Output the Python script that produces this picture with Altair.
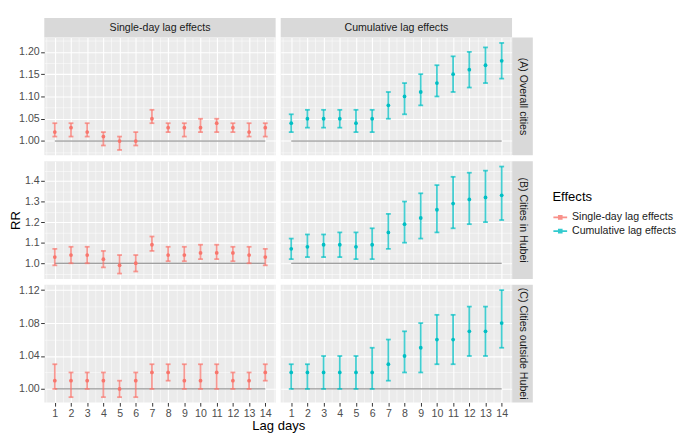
import altair as alt
import pandas as pd

lags = list(range(1, 15))
effects = ["Single-day lag effects", "Cumulative lag effects"]
regions = ["(A) Overall cities", "(B) Cities in Hubei", "(C) Cities outside Hubei"]

# (A) Overall cities
a_s_rr = [1.02, 1.03, 1.02, 1.01, 1.00, 1.00, 1.05, 1.03, 1.03, 1.03, 1.04, 1.03, 1.02, 1.03]
a_s_lo = [1.01, 1.01, 1.01, 0.99, 0.98, 0.99, 1.04, 1.02, 1.01, 1.02, 1.02, 1.02, 1.01, 1.01]
a_s_hi = [1.04, 1.04, 1.04, 1.02, 1.01, 1.02, 1.07, 1.04, 1.04, 1.05, 1.05, 1.04, 1.04, 1.04]
a_c_rr = [1.04, 1.05, 1.05, 1.05, 1.04, 1.05, 1.08, 1.10, 1.11, 1.13, 1.15, 1.16, 1.17, 1.18]
a_c_lo = [1.02, 1.03, 1.03, 1.03, 1.02, 1.02, 1.05, 1.06, 1.08, 1.10, 1.11, 1.12, 1.13, 1.14]
a_c_hi = [1.06, 1.07, 1.07, 1.07, 1.07, 1.07, 1.11, 1.13, 1.15, 1.17, 1.19, 1.20, 1.21, 1.22]
# (B) Cities in Hubei
b_s_rr = [1.03, 1.04, 1.04, 1.02, 0.99, 1.00, 1.09, 1.04, 1.04, 1.05, 1.05, 1.05, 1.04, 1.03]
b_s_lo = [0.99, 1.00, 1.00, 0.98, 0.95, 0.96, 1.06, 1.01, 1.01, 1.02, 1.02, 1.01, 1.00, 0.99]
b_s_hi = [1.07, 1.08, 1.08, 1.06, 1.04, 1.04, 1.13, 1.08, 1.08, 1.09, 1.09, 1.08, 1.08, 1.07]
b_c_rr = [1.07, 1.08, 1.09, 1.09, 1.08, 1.09, 1.15, 1.19, 1.22, 1.26, 1.29, 1.31, 1.32, 1.33]
b_c_lo = [1.02, 1.03, 1.03, 1.03, 1.02, 1.02, 1.07, 1.10, 1.12, 1.15, 1.17, 1.19, 1.20, 1.21]
b_c_hi = [1.12, 1.14, 1.14, 1.15, 1.15, 1.17, 1.24, 1.30, 1.34, 1.38, 1.42, 1.44, 1.45, 1.47]
# (C) Cities outside Hubei
c_s_rr = [1.01, 1.01, 1.01, 1.01, 1.00, 1.01, 1.02, 1.02, 1.01, 1.01, 1.02, 1.01, 1.01, 1.02]
c_s_lo = [1.00, 0.99, 1.00, 0.99, 0.99, 0.99, 1.00, 1.01, 1.00, 1.00, 1.00, 1.00, 1.00, 1.01]
c_s_hi = [1.03, 1.02, 1.02, 1.02, 1.01, 1.02, 1.03, 1.03, 1.03, 1.03, 1.03, 1.02, 1.02, 1.03]
c_c_rr = [1.02, 1.02, 1.02, 1.02, 1.02, 1.02, 1.03, 1.04, 1.05, 1.06, 1.06, 1.07, 1.07, 1.08]
c_c_lo = [1.00, 1.00, 1.00, 1.00, 1.00, 1.00, 1.01, 1.02, 1.02, 1.03, 1.03, 1.04, 1.04, 1.05]
c_c_hi = [1.03, 1.03, 1.04, 1.04, 1.04, 1.05, 1.06, 1.07, 1.08, 1.09, 1.09, 1.10, 1.10, 1.12]

series = {
    (0, 0): (a_s_rr, a_s_lo, a_s_hi), (0, 1): (a_c_rr, a_c_lo, a_c_hi),
    (1, 0): (b_s_rr, b_s_lo, b_s_hi), (1, 1): (b_c_rr, b_c_lo, b_c_hi),
    (2, 0): (c_s_rr, c_s_lo, c_s_hi), (2, 1): (c_c_rr, c_c_lo, c_c_hi),
}

# y axis per row
y_major = [[1.00, 1.05, 1.10, 1.15, 1.20], [1.0, 1.1, 1.2, 1.3, 1.4], [1.00, 1.04, 1.08, 1.12]]
y_minor = [[0.975, 1.025, 1.075, 1.125, 1.175, 1.225],
           [0.95, 1.05, 1.15, 1.25, 1.35, 1.45],
           [1.02, 1.06, 1.10]]
y_dom = [[0.968, 1.232], [0.924, 1.496], [0.9835, 1.1265]]
y_fmt = [".2f", ".1f", ".2f"]
x_minor = [0.5 + i for i in range(15)]

FONT = "Liberation Sans"
W, H, SH, SW, GX, GY = 236, 120, 20, 21, 5, 6
COLORS = ["#F8766D", "#00BFC4"]

legend = alt.Legend(
    title="Effects", orient="none", legendX=518, legendY=176,
    symbolType="M-1,0H1M-0.22,-0.22H0.22V0.22H-0.22Z", symbolSize=196,
    symbolStrokeWidth=1.6, symbolOpacity=0.8, rowPadding=1, titlePadding=6,
)
color = alt.Color("effect:N", scale=alt.Scale(domain=effects, range=COLORS), legend=legend)


def panel(r, e):
    rr, lo, hi = series[(r, e)]
    df = pd.DataFrame({"lag": lags, "rr": rr, "lo": lo, "hi": hi, "effect": effects[e]})
    base = alt.Chart(df)
    xs = alt.Scale(domain=[0.35, 14.65], nice=False, zero=False)
    ys = alt.Scale(domain=y_dom[r], nice=False, zero=False)
    left = e == 0
    bottom = r == 2
    xa_major = alt.Axis(values=lags, grid=True, gridWidth=1.1, domain=False,
                        labels=bottom, ticks=bottom, orient="bottom", format="d",
                        title="Lag days" if (bottom and left) else None,
                        titleX=(2 * W + GX) / 2, titlePadding=1)
    xa_minor = alt.Axis(values=x_minor, grid=True, gridWidth=0.5, domain=False,
                        labels=False, ticks=False, orient="bottom", title=None)
    ya_major = alt.Axis(values=y_major[r], grid=True, gridWidth=1.1, domain=False,
                        labels=left, ticks=left, orient="left", format=y_fmt[r],
                        title="RR" if (left and r == 1) else None, titlePadding=2)
    ya_minor = alt.Axis(values=y_minor[r], grid=True, gridWidth=0.5, domain=False,
                        labels=False, ticks=False, orient="left", title=None)

    ref = base.transform_aggregate(x1="min(lag)", x2="max(lag)").transform_calculate(
        one="1").mark_rule(color="#808080", strokeWidth=1).encode(
        x=alt.X("x1:Q", scale=xs, axis=xa_minor),
        x2="x2:Q",
        y=alt.Y("one:Q", scale=ys, axis=ya_minor),
    )
    bars = base.mark_rule(strokeWidth=1.8, opacity=0.72).encode(
        x=alt.X("lag:Q", scale=xs, axis=None),
        y=alt.Y("lo:Q", scale=ys, axis=None),
        y2="hi:Q",
        color=color,
    )
    capped = base.transform_calculate(xl="datum.lag - 0.15", xr="datum.lag + 0.15")
    cap_lo = capped.mark_rule(strokeWidth=1.8, opacity=0.72).encode(
        x=alt.X("xl:Q", scale=xs, axis=None), x2="xr:Q",
        y=alt.Y("lo:Q", scale=ys, axis=None), color=color)
    cap_hi = capped.mark_rule(strokeWidth=1.8, opacity=0.72).encode(
        x=alt.X("xl:Q", scale=xs, axis=None), x2="xr:Q",
        y=alt.Y("hi:Q", scale=ys, axis=None), color=color)
    pts = base.mark_circle(size=15, opacity=1).encode(
        x=alt.X("lag:Q", scale=xs, axis=xa_major),
        y=alt.Y("rr:Q", scale=ys, axis=ya_major),
        color=color,
    )
    return alt.layer(ref, bars, cap_lo, cap_hi, pts).resolve_axis(
        x="independent", y="independent").properties(width=W, height=H)


def strip_top(label):
    return alt.Chart(pd.DataFrame({"label": [label]})).mark_text(
        font=FONT, fontSize=10.8, color="#1A1A1A").encode(
        text="label:N", x=alt.value(W / 2), y=alt.value(SH / 2 + 0.5)).properties(
        width=W, height=SH, view=alt.ViewBackground(fill="#D9D9D9", stroke=None))


def strip_right(label):
    return alt.Chart(pd.DataFrame({"label": [label]})).mark_text(
        font=FONT, fontSize=10.8, color="#1A1A1A", angle=90).encode(
        text="label:N", x=alt.value(SW / 2), y=alt.value(H / 2)).properties(
        width=SW, height=H, view=alt.ViewBackground(fill="#D9D9D9", stroke=None))


def blank(w, h):
    return alt.Chart(pd.DataFrame({"label": [""]})).mark_text(opacity=0).encode(
        text="label:N", x=alt.value(0), y=alt.value(0)).properties(
        width=w, height=h, view=alt.ViewBackground(fill="#FFFFFF", stroke=None))


cells = [strip_top(effects[0]), blank(GX, SH), strip_top(effects[1]), blank(SW, SH)]
for r in range(3):
    if r > 0:
        cells += [blank(1, GY), blank(1, GY), blank(1, GY), blank(1, GY)]
    cells += [panel(r, 0), blank(GX, H), panel(r, 1), strip_right(regions[r])]

chart = alt.concat(*cells, columns=4, spacing=0, bounds="flush", align="each").properties(
    padding=0
).configure_view(fill="#EBEBEB", stroke=None).configure_axis(
    labelFont=FONT, labelFontSize=10.8, labelColor="#4D4D4D",
    tickColor="#333333", tickSize=3.7, tickWidth=1, labelPadding=1.5,
    gridColor="#FFFFFF",
    titleFont=FONT, titleFontSize=13.3, titleColor="#000000", titleFontWeight="normal",
).configure_legend(
    titleFont=FONT, titleFontSize=13.3, titleFontWeight="normal", titleColor="#000000",
    labelFont=FONT, labelFontSize=10.8, labelColor="#1A1A1A",
)

chart.save("out.html", embed_options={"renderer": "svg", "actions": False})
